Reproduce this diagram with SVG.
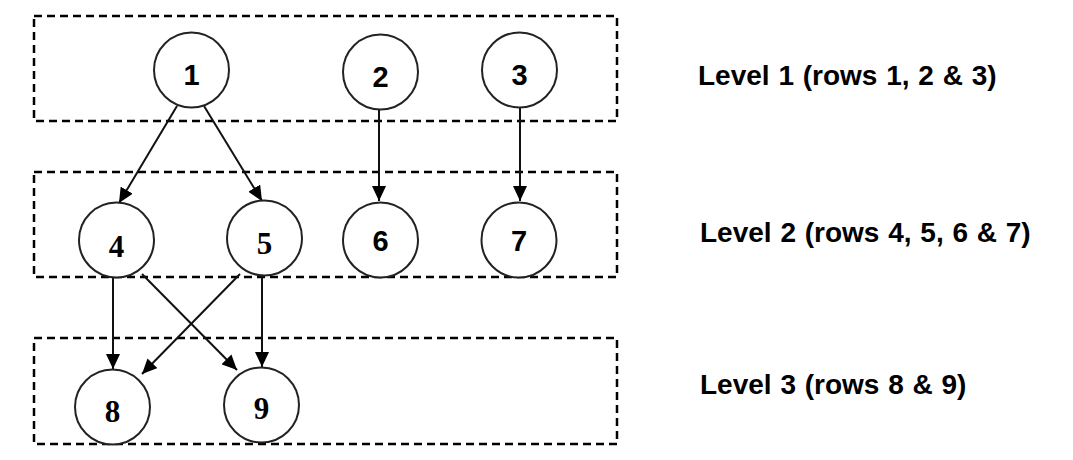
<svg xmlns="http://www.w3.org/2000/svg" width="1073" height="460" viewBox="0 0 1073 460">
<style>
.box{fill:none;stroke:#000;stroke-width:2.5;stroke-dasharray:8 5}
.node circle{fill:#fff;stroke:#222;stroke-width:2}
.sans{font-family:"Liberation Sans",Arial,sans-serif;font-weight:bold;font-size:29px;text-anchor:middle;fill:#000}
.serif{font-family:"Liberation Serif","Times New Roman",serif;font-weight:bold;font-size:31px;text-anchor:middle;fill:#000}
.lbl{font-family:"Liberation Sans",Arial,sans-serif;font-weight:bold;font-size:28px;word-spacing:1px;fill:#000}
.edge{stroke:#111;stroke-width:2;fill:none;marker-end:url(#arr)}
</style>
<defs>
<marker id="arr" markerUnits="userSpaceOnUse" markerWidth="16" markerHeight="14" refX="15" refY="7" orient="auto">
<path d="M0,0 L15,7 L0,14 z" fill="#000"/>
</marker>
</defs>
<rect width="1073" height="460" fill="#fff"/>
<g id="levels">
<rect class="box" x="34" y="16" width="583" height="105"/>
<rect class="box" x="34" y="172" width="583" height="105"/>
<rect class="box" x="34" y="338" width="583" height="106"/>
</g>
<g id="connectors">
<line class="edge" x1="177" y1="106" x2="119" y2="203"/>
<line class="edge" x1="204" y1="106" x2="262" y2="201"/>
<line class="edge" x1="379" y1="109" x2="379" y2="201"/>
<line class="edge" x1="520" y1="107" x2="520" y2="201"/>
<line class="edge" x1="113" y1="277" x2="113" y2="369"/>
<line class="edge" x1="142" y1="274" x2="237" y2="370"/>
<line class="edge" x1="240" y1="274" x2="142" y2="374"/>
<line class="edge" x1="262" y1="275" x2="262" y2="367"/>
</g>
<g id="n1" class="node"><circle cx="191.5" cy="70" r="37.5"/><text class="sans" x="191.5" y="85">1</text></g>
<g id="n2" class="node"><circle cx="380.5" cy="72" r="37.5"/><text class="sans" x="380.5" y="87">2</text></g>
<g id="n3" class="node"><circle cx="519.5" cy="70" r="37.5"/><text class="sans" x="519.5" y="85">3</text></g>
<g id="n4" class="node"><circle cx="116.5" cy="240" r="37.5"/><text class="serif" x="116.5" y="257">4</text></g>
<g id="n5" class="node"><circle cx="264.5" cy="238" r="37.5"/><text class="serif" x="264.5" y="254">5</text></g>
<g id="n6" class="node"><circle cx="380.5" cy="240" r="37.5"/><text class="sans" x="380.5" y="251">6</text></g>
<g id="n7" class="node"><circle cx="519" cy="240" r="37.5"/><text class="sans" x="519" y="251">7</text></g>
<g id="n8" class="node"><circle cx="112.5" cy="407" r="37.5"/><text class="serif" x="112.5" y="422">8</text></g>
<g id="n9" class="node"><circle cx="261.5" cy="405" r="37.5"/><text class="serif" x="261.5" y="419">9</text></g>
<g id="labels">
<text class="lbl" x="698" y="85">Level 1 (rows 1, 2 &amp; 3)</text>
<text class="lbl" x="700" y="242">Level 2 (rows 4, 5, 6 &amp; 7)</text>
<text class="lbl" x="700" y="394">Level 3 (rows 8 &amp; 9)</text>
</g>
</svg>
